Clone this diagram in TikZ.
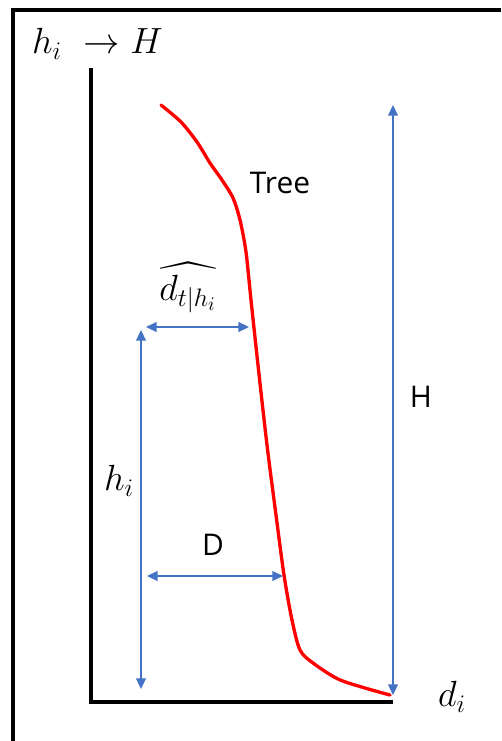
\documentclass[tikz,border=0pt]{standalone}
\usepackage{amsmath,amssymb}
\usepackage{fontspec}
\setsansfont{Open Sans}
\usetikzlibrary{arrows.meta,positioning}

\definecolor{dimblue}{HTML}{4472C4}
\tikzset{
  dimline/.style={dimblue, line width=1pt,
    {Triangle[length=6pt,width=5.5pt]}-{Triangle[length=6pt,width=5.5pt]}},
  txtlbl/.style={font=\sffamily\fontsize{17}{20}\selectfont},
  mathlbl/.style={font=\fontsize{22}{26}\selectfont},
}

\begin{document}
\begin{tikzpicture}[x=0.02cm,y=-0.02cm]
\useasboundingbox (0,0) rectangle (501,741);

% Outer frame (only top and left edges show)
\draw[line width=2.7pt] (13,741) -- (13,10) -- (501,10);

% Axes
\coordinate (origin) at (91,702);
\coordinate (ytop) at (91,68);
\coordinate (xend) at (393,702);
\draw[line width=2.1pt] (ytop) -- (origin) -- (xend);
\node[mathlbl, anchor=west] (ylabel) at (26,44) {$h_i\ \to H$};
\node[mathlbl] (xlabel) at (452,697) {$d_i$};

% Tree profile
\draw[red, line width=1.9pt, line cap=round] plot[smooth] coordinates {
  (161,105) (181,122) (197,142) (210,163) (222,180) (233,198) (240,220)
  (246,252) (251,300) (258,365) (267,445) (276,515) (284,575) (292,620)
  (300,650) (313,663) (338,679) (365,688) (390,695)};
\node[txtlbl] (tree) at (280,183) {Tree};

% Total height H
\coordinate (Htop) at (393,105);
\coordinate (Hbot) at (393,695);
\draw[dimline] (Hbot) -- (Htop);
\node[txtlbl] (Hlbl) at (421,397) {H};

% Height h_i
\coordinate (htop) at (141,330);
\coordinate (hbot) at (141,689);
\draw[dimline] (hbot) -- (htop);
\node[mathlbl] (hlbl) at (119,481) {$h_i$};

% Diameter at h_i
\coordinate (dleft) at (146,327);
\coordinate (dright) at (249,327);
\draw[dimline] (dleft) -- (dright);
\node[mathlbl] (dlbl) at (188,288) {$\widehat{d_{t|h_i}}$};

% Diameter D
\coordinate (Dleft) at (147,576);
\coordinate (Dright) at (283,576);
\draw[dimline] (Dleft) -- (Dright);
\node[txtlbl] (Dlbl) at (213,545) {D};
\end{tikzpicture}
\end{document}
